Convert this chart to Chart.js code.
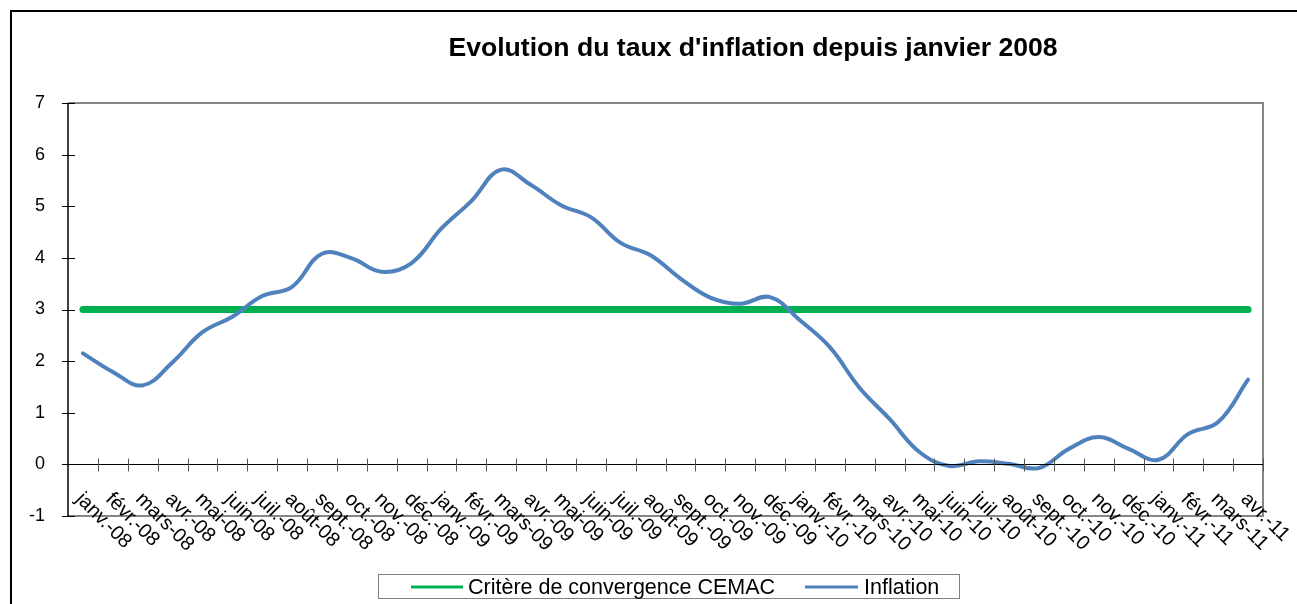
<!DOCTYPE html>
<html>
<head>
<meta charset="utf-8">
<script src="https://cdn.jsdelivr.net/npm/chart.js@4/dist/chart.umd.min.js"></script>
<style>
html,body{margin:0;padding:0;background:#fff;}
#wrap{width:1297px;height:604px;position:relative;}
</style>
</head>
<body>
<div id="wrap"><canvas id="c" width="1297" height="604"></canvas></div>
<script>
const title = "Evolution du taux d'inflation depuis janvier 2008";
const categories = [
  "janv.-08","févr.-08","mars-08","avr.-08","mai-08","juin-08","juil.-08","août-08","sept.-08","oct.-08","nov.-08","déc.-08",
  "janv.-09","févr.-09","mars-09","avr.-09","mai-09","juin-09","juil.-09","août-09","sept.-09","oct.-09","nov.-09","déc.-09",
  "janv.-10","févr.-10","mars-10","avr.-10","mai-10","juin-10","juil.-10","août-10","sept.-10","oct.-10","nov.-10","déc.-10",
  "janv.-11","févr.-11","mars-11","avr.-11"
];
const critereLabel = "Critère de convergence CEMAC";
const critere = [3,3,3,3,3,3,3,3,3,3,3,3,3,3,3,3,3,3,3,3,3,3,3,3,3,3,3,3,3,3,3,3,3,3,3,3,3,3,3,3];
const inflationLabel = "Inflation";
const inflation = [
  2.15,1.79,1.53,1.98,2.56,2.86,3.26,3.44,4.08,3.99,3.73,3.90,
  4.57,5.10,5.71,5.41,5.02,4.79,4.29,4.05,3.60,3.23,3.11,3.24,
  2.79,2.27,1.48,0.88,0.24,-0.03,0.06,0.01,-0.07,0.30,0.53,0.30,
  0.09,0.59,0.82,1.64
];
const yTicks = [-1,0,1,2,3,4,5,6,7];

const FONT = '"Liberation Sans", Arial, sans-serif';
const GREEN = '#00B050';
const BLUE = '#4F81BD';

const decor = {
  id: 'decor',
  beforeDraw(chart) {
    const ctx = chart.ctx;
    ctx.save();
    ctx.fillStyle = '#fff';
    ctx.fillRect(0, 0, chart.width, chart.height);
    ctx.strokeStyle = '#000';
    ctx.lineWidth = 2;
    ctx.strokeRect(11, 11, 1400, 800);
    ctx.restore();
  },
  afterDatasetsDraw(chart) {
    const ctx = chart.ctx;
    const xs = chart.scales.x, ys = chart.scales.y;
    const a = chart.chartArea;
    ctx.save();
    ctx.strokeStyle = '#868686';
    ctx.lineWidth = 2;
    ctx.beginPath();
    ctx.moveTo(a.left, a.top); ctx.lineTo(a.right, a.top); ctx.lineTo(a.right, a.bottom); ctx.lineTo(a.left, a.bottom);
    ctx.stroke();
    ctx.strokeStyle = '#000';
    ctx.lineWidth = 1.5;
    ctx.beginPath();
    ctx.moveTo(a.left, a.top); ctx.lineTo(a.left, a.bottom);
    ctx.stroke();
    ctx.lineWidth = 1;
    ctx.beginPath();
    yTicks.forEach(v => {
      const y = Math.round(ys.getPixelForValue(v)) + 0.5;
      ctx.moveTo(a.left - 6, y); ctx.lineTo(a.left + 7, y);
    });
    ctx.stroke();
    const y0 = Math.round(ys.getPixelForValue(0)) + 0.5;
    ctx.beginPath();
    ctx.moveTo(a.left, y0); ctx.lineTo(a.right, y0);
    ctx.stroke();
    ctx.strokeStyle = '#555';
    ctx.beginPath();
    const step = xs.getPixelForValue(1) - xs.getPixelForValue(0);
    for (let i = 0; i < categories.length; i++) {
      const x = Math.round(xs.getPixelForValue(i) + step / 2) + 0.5;
      ctx.moveTo(x, y0 - 6); ctx.lineTo(x, y0 + 7);
    }
    ctx.stroke();
    ctx.restore();
  },
  afterDraw(chart) {
    const ctx = chart.ctx;
    const xs = chart.scales.x;
    ctx.save();
    ctx.fillStyle = '#000';
    ctx.font = '20px ' + FONT;
    ctx.textAlign = 'left';
    ctx.textBaseline = 'top';
    categories.forEach((lab, i) => {
      const cx = xs.getPixelForValue(i);
      ctx.save();
      ctx.translate(cx + 3, 489);
      ctx.rotate(Math.PI / 4);
      ctx.fillText(lab, 0, 0);
      ctx.restore();
    });
    ctx.font = 'bold 26.6px ' + FONT;
    ctx.textAlign = 'center';
    ctx.textBaseline = 'middle';
    ctx.fillText(title, 753, 49);
    ctx.strokeStyle = '#808080';
    ctx.lineWidth = 1;
    ctx.strokeRect(378.5, 574.5, 581, 24);
    const ly = 587;
    ctx.lineWidth = 3;
    ctx.strokeStyle = GREEN;
    ctx.beginPath(); ctx.moveTo(411, ly); ctx.lineTo(463, ly); ctx.stroke();
    ctx.strokeStyle = BLUE;
    ctx.beginPath(); ctx.moveTo(805, ly); ctx.lineTo(858, ly); ctx.stroke();
    ctx.fillStyle = '#000';
    ctx.font = '21.5px ' + FONT;
    ctx.textAlign = 'left';
    ctx.textBaseline = 'middle';
    ctx.fillText(critereLabel, 468, ly + 1);
    ctx.fillText(inflationLabel, 864, ly + 1);
    ctx.restore();
  }
};

new Chart(document.getElementById('c'), {
  type: 'line',
  data: {
    labels: categories,
    datasets: [
      { label: critereLabel, data: critere, borderColor: GREEN, backgroundColor: GREEN, borderWidth: 7,
        borderCapStyle: 'round', pointRadius: 0, tension: 0, order: 1 },
      { label: inflationLabel, data: inflation, borderColor: BLUE, backgroundColor: BLUE, borderWidth: 4,
        borderCapStyle: 'round', pointRadius: 0, tension: 0.4, order: 0 }
    ]
  },
  options: {
    responsive: false,
    animation: false,
    devicePixelRatio: 1,
    layout: { padding: { left: 0, top: 103, right: 34, bottom: 0 } },
    plugins: { legend: { display: false }, title: { display: false }, tooltip: { enabled: false } },
    scales: {
      x: {
        type: 'category', offset: true,
        grid: { display: false, drawTicks: false },
        border: { display: false },
        ticks: { display: false },
        afterFit: (s) => { s.height = 88; }
      },
      y: {
        min: -1, max: 7,
        grid: { display: false, drawTicks: false },
        border: { display: false },
        ticks: { stepSize: 1, color: '#000', font: { size: 18, family: FONT }, padding: 23 },
        afterFit: (s) => { s.width = 68; }
      }
    }
  },
  plugins: [decor]
});
</script>
</body>
</html>
